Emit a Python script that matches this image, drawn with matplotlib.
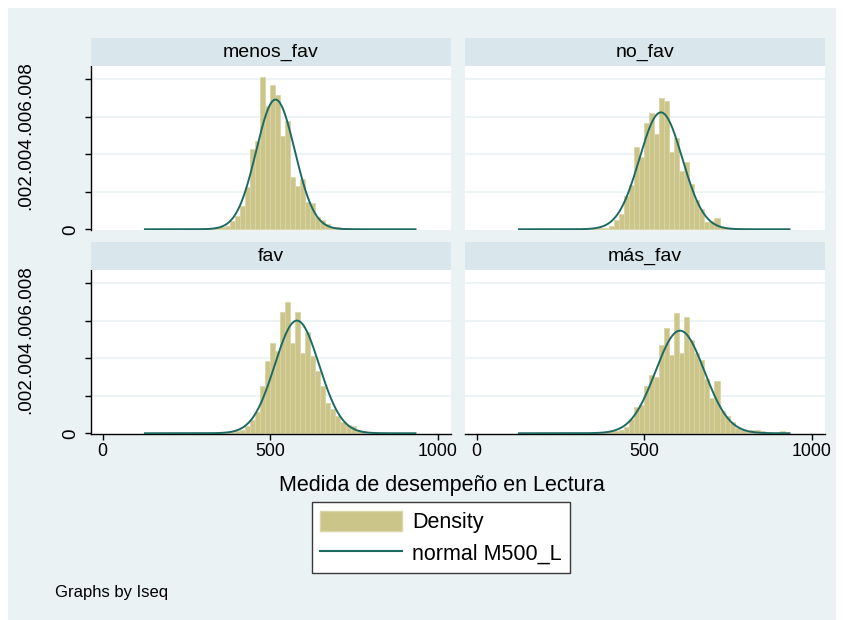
import numpy as np
import matplotlib
matplotlib.use("Agg")
import matplotlib.pyplot as plt
from matplotlib.patches import Rectangle, Patch
from matplotlib.lines import Line2D
from matplotlib.transforms import blended_transform_factory

plt.rcParams['font.family'] = ['Liberation Sans', 'DejaVu Sans']

# ---- data -------------------------------------------------------------
groups = ["menos_fav", "no_fav", "fav", "más_fav"]

# common histogram bins (score units)
bin_edges = np.arange(125, 936, 15)

# density of M500_L per bin, one list per group
dens_menos_fav = [
    0.00001, 0.00001, 0.00001, 0.00001, 0.00001, 0.00001, 0.00001, 0.00002, 0.00002, 0.00002,
    0.00003, 0.00004, 0.00006, 0.00008, 0.00010, 0.00014, 0.00020, 0.00046, 0.00073, 0.00126,
    0.00224, 0.00426, 0.00474, 0.00812, 0.00660, 0.00773, 0.00718, 0.00500, 0.00580, 0.00280,
    0.00230, 0.00270, 0.00146, 0.00140, 0.00066, 0.00050, 0.00027, 0.00013, 0.00010, 0.00008,
    0.00005, 0.00003, 0.00002, 0.00002, 0.00001, 0.00001, 0.00001, 0.00001, 0.00001, 0.00001,
    0.00001, 0.00001, 0.00001, 0.00001,
]
dens_no_fav = [
    0.00001, 0.00001, 0.00001, 0.00001, 0.00001, 0.00001, 0.00001, 0.00001, 0.00001, 0.00001,
    0.00001, 0.00002, 0.00002, 0.00003, 0.00004, 0.00005, 0.00006, 0.00008, 0.00016, 0.00048,
    0.00084, 0.00180, 0.00235, 0.00440, 0.00385, 0.00570, 0.00620, 0.00510, 0.00700, 0.00685,
    0.00410, 0.00490, 0.00310, 0.00360, 0.00240, 0.00155, 0.00110, 0.00040, 0.00045, 0.00060,
    0.00012, 0.00008, 0.00005, 0.00003, 0.00002, 0.00001, 0.00001, 0.00001, 0.00001, 0.00001,
    0.00001, 0.00001, 0.00001, 0.00001,
]
dens_fav = [
    0.00001, 0.00001, 0.00001, 0.00001, 0.00001, 0.00002, 0.00001, 0.00001, 0.00002, 0.00002,
    0.00002, 0.00002, 0.00003, 0.00003, 0.00004, 0.00005, 0.00006, 0.00008, 0.00010, 0.00018,
    0.00040, 0.00070, 0.00116, 0.00250, 0.00384, 0.00480, 0.00440, 0.00650, 0.00700, 0.00480,
    0.00650, 0.00430, 0.00540, 0.00410, 0.00330, 0.00250, 0.00160, 0.00130, 0.00090, 0.00060,
    0.00045, 0.00040, 0.00018, 0.00010, 0.00006, 0.00004, 0.00003, 0.00002, 0.00001, 0.00001,
    0.00001, 0.00001, 0.00001, 0.00001,
]
dens_mas_fav = [
    0.00001, 0.00001, 0.00001, 0.00002, 0.00001, 0.00001, 0.00001, 0.00001, 0.00002, 0.00001,
    0.00002, 0.00002, 0.00002, 0.00002, 0.00003, 0.00004, 0.00005, 0.00007, 0.00010, 0.00014,
    0.00020, 0.00036, 0.00075, 0.00140, 0.00150, 0.00250, 0.00310, 0.00300, 0.00470, 0.00560,
    0.00420, 0.00640, 0.00430, 0.00620, 0.00500, 0.00430, 0.00390, 0.00290, 0.00190, 0.00280,
    0.00120, 0.00090, 0.00060, 0.00030, 0.00020, 0.00014, 0.00020, 0.00020, 0.00010, 0.00004,
    0.00003, 0.00003, 0.00010, 0.00002,
]
densities = [dens_menos_fav, dens_no_fav, dens_fav, dens_mas_fav]

# normal fit per group
group_mean = [516, 550, 580, 607]
group_sd = [57.6, 63.9, 66.3, 72.8]
score_min, score_max = 126, 934

x_ticks = [0, 500, 1000]
y_ticks = [0, 0.002, 0.004, 0.006, 0.008]
y_tick_labels = ["0", ".002", ".004", ".006", ".008"]

# ---- style ------------------------------------------------------------
W, H = 843, 620
BG = "#EAF2F3"
STRIP = "#D9E6EB"
BAR = "#CCC589"
BAR_EDGE = "#DAD5A8"
LINE = "#1E6A63"


def fx(px):
    return px / W


def fy(py):
    return 1 - py / H


fig = plt.figure(figsize=(W / 100, H / 100), dpi=100)
fig.patch.set_facecolor("white")
fig.patches.append(Rectangle((fx(8), 0), fx(836) - fx(8), fy(8), transform=fig.transFigure,
                             facecolor=BG, edgecolor="none", zorder=-10))

panel_x = [(91, 451), (465, 825), (91, 451), (465, 825)]
panel_y = [(66, 230), (66, 230), (270, 434), (270, 434)]
strip_h = 28

for i, g in enumerate(groups):
    x0, x1 = panel_x[i]
    y0, y1 = panel_y[i]
    ax = fig.add_axes([fx(x0), fy(y1), fx(x1) - fx(x0), (y1 - y0) / H])
    ax.set_facecolor("white")

    ax.bar(bin_edges[:-1], densities[i], width=np.diff(bin_edges), align="edge",
           color=BAR, edgecolor=BAR_EDGE, linewidth=0.6, zorder=2)
    xs = np.linspace(score_min, score_max, 600)
    pdf = np.exp(-0.5 * ((xs - group_mean[i]) / group_sd[i]) ** 2) / (group_sd[i] * np.sqrt(2 * np.pi))
    ax.plot(xs, pdf, color=LINE, lw=1.4, zorder=3)

    ax.set_xlim(-35, 1040)
    ax.set_ylim(-0.00004, 0.00872)
    ax.set_yticks(y_ticks)
    for yt in y_ticks[1:]:
        ax.axhline(yt, color=BG, lw=1.2, zorder=1)

    for s in ["top", "right"]:
        ax.spines[s].set_visible(False)
    ax.spines["bottom"].set_visible(i >= 2)
    ax.spines["left"].set_visible(i % 2 == 0)
    ax.spines["bottom"].set_linewidth(1.0)
    ax.spines["left"].set_linewidth(1.0)

    if i >= 2:
        ax.set_xticks(x_ticks)
        ax.set_xticklabels([str(t) for t in x_ticks])
        ax.tick_params(axis="x", length=4.3, width=1.0, pad=2.5, labelsize=12.8)
    else:
        ax.set_xticks([])

    ax.set_yticklabels([])
    if i % 2 == 0:
        ax.tick_params(axis="y", length=4.3, width=1.0)
        tr = blended_transform_factory(fig.transFigure, ax.transData)
        for yt, lab in zip(y_ticks, y_tick_labels):
            xpos = fx(71) if yt == 0 else fx(26)
            ax.text(xpos, yt, lab, transform=tr, rotation=90, ha="center", va="center",
                    fontsize=13.6, clip_on=False)
    else:
        ax.tick_params(axis="y", length=0)

    # strip with group name
    sax = fig.add_axes([fx(x0), fy(y0), fx(x1) - fx(x0), strip_h / H])
    sax.set_facecolor(STRIP)
    sax.set_xticks([])
    sax.set_yticks([])
    for s in sax.spines.values():
        s.set_visible(False)
    sax.text(0.5, 0.5, g, transform=sax.transAxes, ha="center", va="center", fontsize=14)

fig.text(fx(442), fy(490.5), "Medida de desempeño en Lectura", ha="center", va="baseline",
         fontsize=15.5)

handles = [Patch(facecolor=BAR, edgecolor=BAR_EDGE, linewidth=1.0),
           Line2D([], [], color=LINE, lw=1.5)]
leg = fig.legend(handles, ["Density", "normal M500_L"], loc="upper center",
                 bbox_to_anchor=(fx(441), fy(502)), frameon=True, fancybox=False,
                 framealpha=1.0, facecolor="white",
                 fontsize=15.5, handlelength=3.8, handleheight=1.05, handletextpad=0.45,
                 borderpad=0.4, labelspacing=0.42, borderaxespad=0)
leg.get_frame().set_edgecolor("#3a3a3a")
leg.get_frame().set_linewidth(1.0)

fig.text(fx(55), fy(597), "Graphs by Iseq", ha="left", va="baseline", fontsize=12)

fig.savefig("out.png", dpi=100, facecolor=fig.get_facecolor())
